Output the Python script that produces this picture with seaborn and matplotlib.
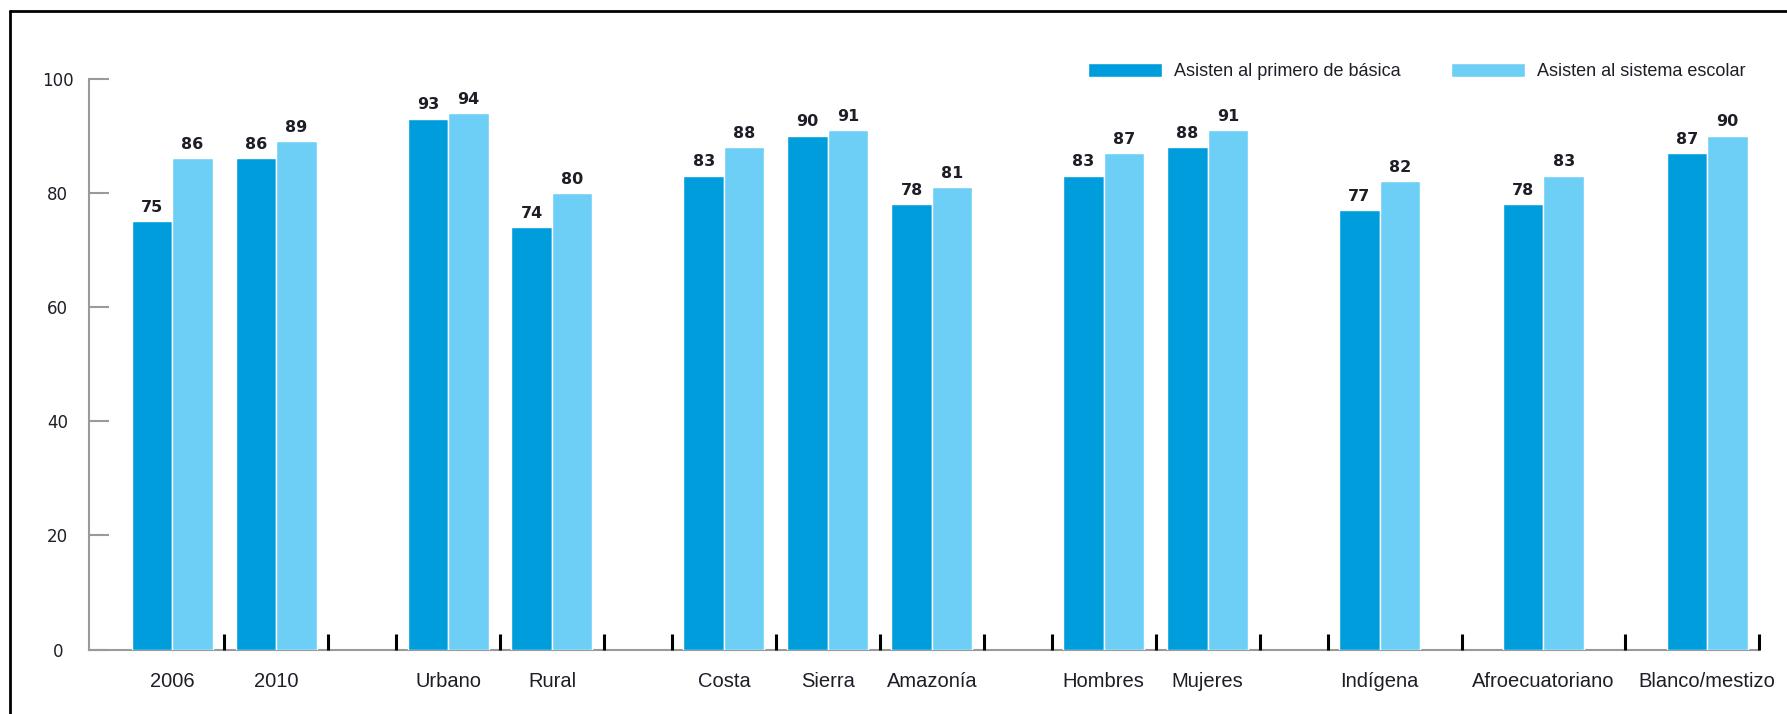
import numpy as np
import pandas as pd
import matplotlib
matplotlib.use("Agg")
import matplotlib.pyplot as plt
from matplotlib.lines import Line2D
import seaborn as sns

# Data
categorias = ["2006", "2010", "Urbano", "Rural", "Costa", "Sierra", "Amazonía",
              "Hombres", "Mujeres", "Indígena", "Afroecuatoriano", "Blanco/mestizo"]
grupos = [2, 2, 3, 2, 3]          # number of categories in each block
primero_basica = [75, 86, 93, 74, 83, 90, 78, 83, 88, 77, 78, 87]
sistema_escolar = [86, 89, 94, 80, 88, 91, 81, 87, 91, 82, 83, 90]
series = ["Asisten al primero de básica", "Asisten al sistema escolar"]
y_ticks = [0, 20, 40, 60, 80, 100]

# Layout of the blocks along the x axis (slot units)
paso = [1.0, 1.0, 1.0, 1.0, 1.575]
hueco = 1.655

pos, limites = [], []
x = 0.0
for g, (n, s) in enumerate(zip(grupos, paso)):
    if g > 0:
        x += hueco
    centros = [x + i * s for i in range(n)]
    pos.extend(centros)
    if g > 0:
        limites.append(centros[0] - 0.5)
    limites.extend([(a + b) / 2 for a, b in zip(centros[:-1], centros[1:])])
    limites.append(centros[-1] + 0.5)
    x = centros[-1]

df = pd.DataFrame({
    "pos": pos * 2,
    "serie": [series[0]] * len(pos) + [series[1]] * len(pos),
    "valor": primero_basica + sistema_escolar,
})

AZUL = "#009ddc"
CELESTE = "#6dcff6"
GRIS = "#9a9a9a"
TEXTO = "#1e1e28"

sns.set_theme(style="white")
plt.rcParams["font.family"] = ["DejaVu Sans"]

W, H = 1787, 714
fig = plt.figure(figsize=(W / 100, H / 100), dpi=100)
ax = fig.add_axes([89 / W, 0.0902, (1759 - 89) / W, 0.7998])

sns.barplot(data=df, x="pos", y="valor", hue="serie", native_scale=True,
            palette=[AZUL, CELESTE], saturation=1, width=0.78,
            edgecolor="white", linewidth=1, errorbar=None, ax=ax)

for cont in ax.containers:
    ax.bar_label(cont, fmt="%d", padding=4.5, fontsize=11.5, fontweight="bold",
                 color=TEXTO, family="DejaVu Sans")

ax.set_xlim(-0.80, 15.27)
ax.set_ylim(0, 100)
ax.set_xlabel("")
ax.set_ylabel("")

ax.set_xticks(pos)
ax.set_xticklabels(categorias, family="Liberation Sans", fontsize=14.5, color=TEXTO)
ax.set_xticks(limites, minor=True)
ax.tick_params(axis="x", which="major", length=0, pad=16)
ax.tick_params(axis="x", which="minor", direction="in", length=11.5, width=2.2,
               color="black", bottom=True)

ax.set_yticks(y_ticks)
ax.set_yticklabels([str(v) for v in y_ticks], family="DejaVu Sans", fontsize=12,
                   color=TEXTO)
ax.tick_params(axis="y", direction="in", length=14.4, width=1.5, color=GRIS,
               pad=22.5, left=True)
for lab in ax.get_yticklabels():
    lab.set_horizontalalignment("center")

for side in ("top", "right"):
    ax.spines[side].set_visible(False)
for side in ("left", "bottom"):
    ax.spines[side].set_color(GRIS)
    ax.spines[side].set_linewidth(1.5)
ax.spines["bottom"].set_zorder(0.5)

sns.move_legend(ax, "center left", bbox_to_anchor=(1088 / W, 1 - 71.5 / H),
                bbox_transform=fig.transFigure, frameon=False, title=None, ncol=2,
                handlelength=4.1, handleheight=0.8, handletextpad=0.66,
                columnspacing=2.77, borderpad=0, borderaxespad=0,
                prop={"family": "Liberation Sans", "size": 13}, labelcolor=TEXTO)

# Frame lines along the left and top edges
fig.add_artist(Line2D([10 / W, 10 / W], [0, 1 - 11 / H], transform=fig.transFigure,
                      color="black", lw=2))
fig.add_artist(Line2D([10 / W, 1], [1 - 11 / H, 1 - 11 / H], transform=fig.transFigure,
                      color="black", lw=2))

fig.savefig("out.png", dpi=100, facecolor="white")
